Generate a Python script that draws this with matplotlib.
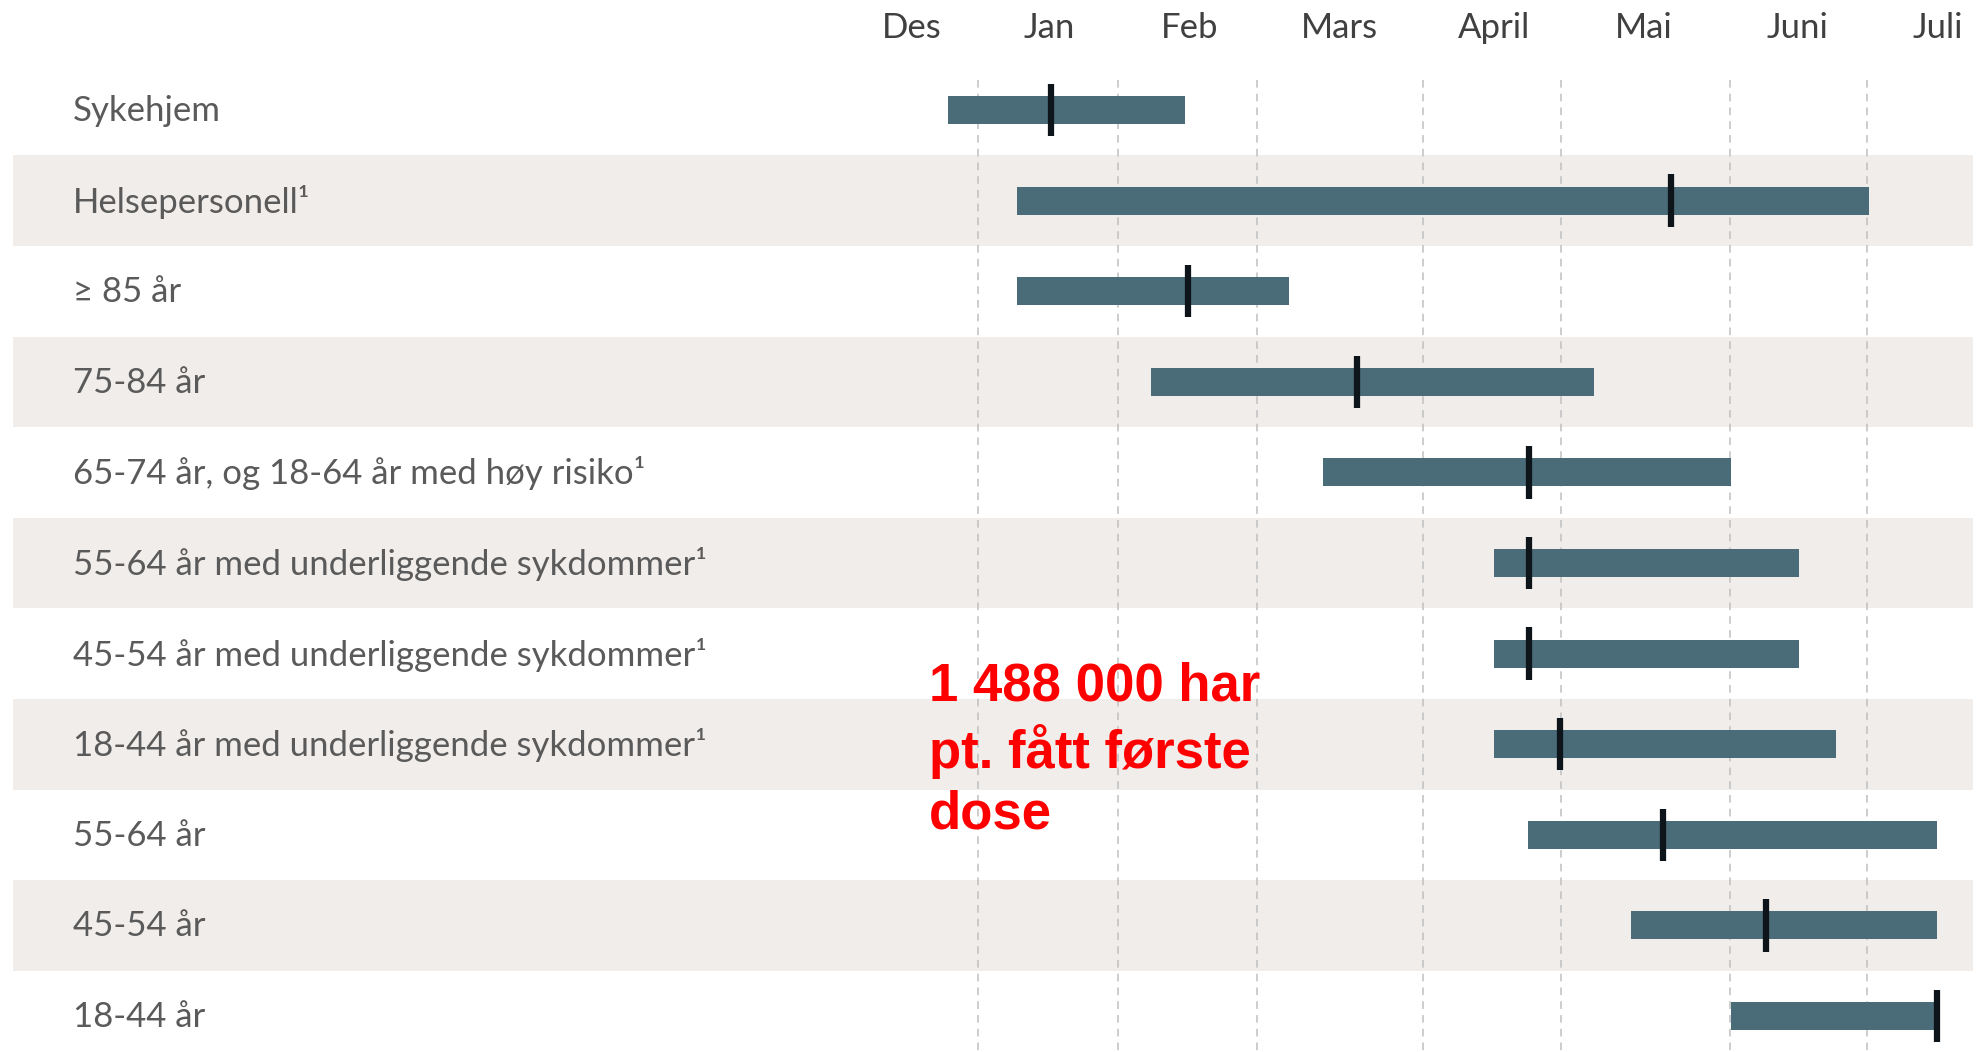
import matplotlib
matplotlib.use("Agg")
import matplotlib.pyplot as plt

# rows, top to bottom
groups = [
    "Sykehjem",
    "Helsepersonell¹",
    "≥ 85 år",
    "75-84 år",
    "65-74 år, og 18-64 år med høy risiko¹",
    "55-64 år med underliggende sykdommer¹",
    "45-54 år med underliggende sykdommer¹",
    "18-44 år med underliggende sykdommer¹",
    "55-64 år",
    "45-54 år",
    "18-44 år",
]

# time in months, 0 = start of Des
start = [0.80, 1.26, 1.26, 2.17, 3.33, 4.48, 4.48, 4.48, 4.71, 5.41, 6.08]
end = [2.40, 7.01, 3.10, 5.16, 6.08, 6.54, 6.54, 6.79, 7.47, 7.47, 7.47]
marker = [1.49, 5.68, 2.42, 3.56, 4.72, 4.72, 4.72, 4.93, 5.62, 6.32, 7.47]

months = ["Des", "Jan", "Feb", "Mars", "April", "Mai", "Juni", "Juli"]
month_mid = [0.55, 1.48, 2.43, 3.44, 4.48, 5.49, 6.53, 7.48]
month_edges = [1.0, 1.945, 2.883, 4.004, 4.935, 6.076, 7.0]

note = "1 488 000 har\npt. fått første\ndose"

bar_col = "#4a6c78"
band_col = "#f0edeb"
label_col = "#5a5a5a"

fig = plt.figure(figsize=(19.77, 10.52), dpi=100)
ax = fig.add_axes([0, 0, 1, 1])
ax.set_xlim(-5.60, 7.742)
ax.set_ylim(10.397, -1.214)
ax.axis("off")

# alternating grey bands
for i in range(len(groups)):
    if i % 2 == 1:
        ax.fill_between([-5.51, 7.715], i - 0.5, i + 0.5, color=band_col, lw=0, zorder=0)

# dashed month lines
ax.vlines(month_edges, -0.33, 10.4, colors="#c0c0c0", linestyles=(0, (5, 4)), lw=1.1, zorder=1)

# bars + black marker
for i in range(len(groups)):
    ax.barh(i, end[i] - start[i], left=start[i], height=0.31, color=bar_col, zorder=2)
    ax.vlines(marker[i], i - 0.29, i + 0.29, colors="#0d141a", lw=4.5, zorder=3)
    ax.text(-5.11, i + 0.01, groups[i], ha="left", va="center", fontsize=25,
            family=["Lato", "DejaVu Sans"], color=label_col)

for m, x in zip(months, month_mid):
    ax.text(x, -0.905, m, ha="center", va="center", fontsize=25,
            family=["Lato", "DejaVu Sans"], color="#404040")

ax.text(0.67, 6.09, note, ha="left", va="top", fontsize=38, fontweight="bold",
        family="Liberation Sans", color="#ff0000", linespacing=1.27, zorder=4)

fig.savefig("out.png", dpi=100)
